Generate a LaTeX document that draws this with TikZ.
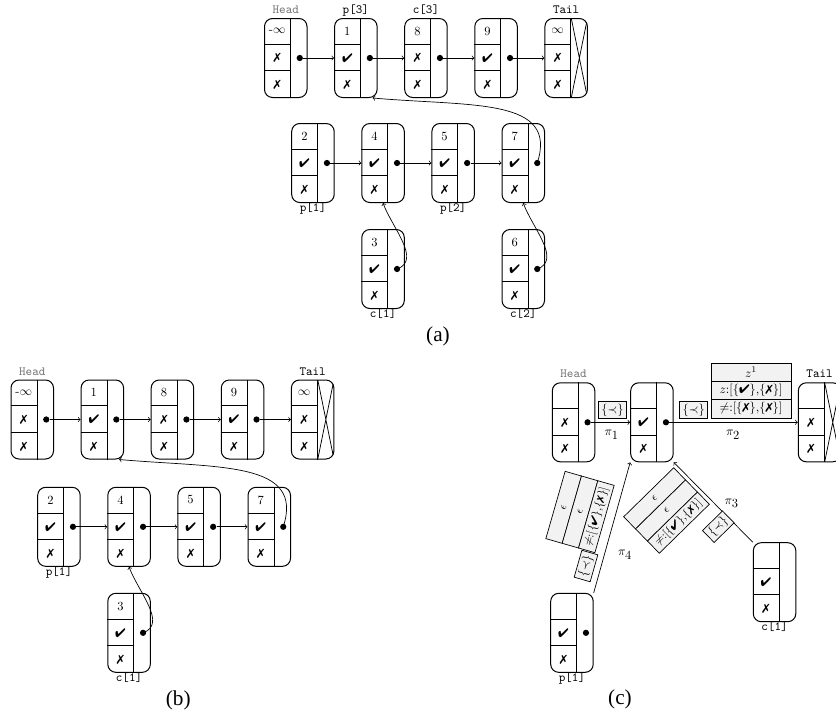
\documentclass[tikz,border=0pt]{standalone}
\usepackage{fontspec}
\usepackage{pifont}
\newfontfamily\capfont{Liberation Serif}
\newcommand\cmk{\ding{52}}
\newcommand\xmk{\ding{55}}
\newcommand\scmk{$\{$\cmk$\}$}
\newcommand\sxmk{$\{$\xmk$\}$}
\newcommand\LLnode[7]{%
  \node[lbox,#7] (#1) at ({#2+21.25},{-#3-39.5}) {};
  \draw[inln] ([xshift=21.12pt]#1.north west) -- ([xshift=21.12pt]#1.south west);
  \draw[inln] ([yshift=-21.07pt]#1.north west) -- ++(26.4,0);
  \draw[inln] ([yshift=-42.13pt]#1.north west) -- ++(26.4,0);
  \node[cell] (#1-t) at ([xshift=10.56pt,yshift=-10.53pt]#1.north west) {#4};
  \node[cell] (#1-m) at ([xshift=10.56pt]#1.west) {#5};
  \node[cell] (#1-b) at ([xshift=10.56pt,yshift=10.53pt]#1.south west) {#6};
}
\newcommand\LLdot[1]{\node[dotst] (#1-d) at ([xshift=-6.2pt]#1.east) {};}
\newcommand\TopLab[3]{\node[toplab,#3] (#1-l) at ([yshift=3.5pt]#1.north) {#2};}
\newcommand\BotLab[2]{\node[toplab] (#1-l) at ([yshift=-7pt]#1.south) {#2};}
\begin{document}
\begin{tikzpicture}[x=0.8pt,y=0.8pt,
  lbox/.style={draw, rounded corners=6.4pt, minimum width=34pt, minimum height=63.2pt, inner sep=0pt, line width=0.8pt},
  inln/.style={line width=0.6pt},
  tailx/.style={path picture={\draw[line width=0.6pt] ([xshift=21.12pt]path picture bounding box.north west) -- (path picture bounding box.south east) ([xshift=21.12pt]path picture bounding box.south west) -- (path picture bounding box.north east);}},
  cell/.style={inner sep=0pt, font=\fontsize{10}{12}\selectfont},
  dotst/.style={circle, fill, inner sep=0pt, minimum size=5pt},
  arr/.style={->, line width=0.55pt},
  toplab/.style={anchor=base, inner sep=0pt, font=\ttfamily},
  graylab/.style={text=black!55},
  capst/.style={inner sep=0pt, font=\capfont\fontsize{17}{20}\selectfont},
  lbl/.style={draw, fill=gray!10, inner sep=1pt, minimum width=22.4pt, minimum height=13.3pt, line width=0.55pt},
  trow/.style={draw, fill=gray!10, inner sep=0.5pt, line width=0.55pt},
  rrow/.style={trow, minimum width=56pt, minimum height=13.6pt, font=\fontsize{9}{10}\selectfont},
  pilab/.style={inner sep=0pt}
]
\useasboundingbox (0,0) rectangle (836,-717);

% ---------------- (a) ----------------
\LLnode{aH}{264.5}{18.5}{-$\infty$}{\xmk}{\xmk}{}\LLdot{aH}
\LLnode{aP}{334.6}{18.5}{1}{\cmk}{\xmk}{}\LLdot{aP}
\LLnode{aC}{404.7}{18.5}{8}{\xmk}{\xmk}{}\LLdot{aC}
\LLnode{aN}{474.8}{18.5}{9}{\cmk}{\xmk}{}\LLdot{aN}
\LLnode{aT}{544.9}{18.5}{$\infty$}{\xmk}{\xmk}{tailx}
\TopLab{aH}{Head}{graylab}
\TopLab{aP}{p[3]}{}
\TopLab{aC}{c[3]}{}
\TopLab{aT}{Tail}{}
\LLnode{a2}{291.7}{123.5}{2}{\cmk}{\xmk}{}\LLdot{a2}
\LLnode{a4}{361.8}{123.5}{4}{\cmk}{\xmk}{}\LLdot{a4}
\LLnode{a5}{431.9}{123.5}{5}{\cmk}{\xmk}{}\LLdot{a5}
\LLnode{a7}{502.0}{123.5}{7}{\cmk}{\xmk}{}\LLdot{a7}
\LLnode{a3}{361.8}{229.5}{3}{\cmk}{\xmk}{}\LLdot{a3}
\LLnode{a6}{502.0}{229.5}{6}{\cmk}{\xmk}{}\LLdot{a6}
\BotLab{a2}{p[1]}
\BotLab{a5}{p[2]}
\BotLab{a3}{c[1]}
\BotLab{a6}{c[2]}
\draw[arr] (aH-d) -- (aP.west);
\draw[arr] (aP-d) -- (aC.west);
\draw[arr] (aC-d) -- (aN.west);
\draw[arr] (aN-d) -- (aT.west);
\draw[arr] (a2-d) -- (a4.west);
\draw[arr] (a4-d) -- (a5.west);
\draw[arr] (a5-d) -- (a7.west);
\draw[arr] (a7-d.center) to[out=72,in=-5,in looseness=1.45] ([xshift=-4pt]aP.south east);
\draw[arr] (a3-d.center) to[out=20,in=-70] (a4.south);
\draw[arr] (a6-d.center) to[out=20,in=-70] (a7.south);
\node[capst] (capa) at (438,-336) {(a)};

% ---------------- (b) ----------------
\LLnode{bH}{11}{380}{-$\infty$}{\xmk}{\xmk}{}\LLdot{bH}
\LLnode{bP}{81.1}{380}{1}{\cmk}{\xmk}{}\LLdot{bP}
\LLnode{bC}{151.2}{380}{8}{\xmk}{\xmk}{}\LLdot{bC}
\LLnode{bN}{221.3}{380}{9}{\cmk}{\xmk}{}\LLdot{bN}
\LLnode{bT}{291.4}{380}{$\infty$}{\xmk}{\xmk}{tailx}
\TopLab{bH}{Head}{graylab}
\TopLab{bT}{Tail}{}
\LLnode{b2}{37.7}{487.3}{2}{\cmk}{\xmk}{}\LLdot{b2}
\LLnode{b4}{107.8}{487.3}{4}{\cmk}{\xmk}{}\LLdot{b4}
\LLnode{b5}{177.9}{487.3}{5}{\cmk}{\xmk}{}\LLdot{b5}
\LLnode{b7}{248.0}{487.3}{7}{\cmk}{\xmk}{}\LLdot{b7}
\LLnode{b3}{107.8}{593.3}{3}{\cmk}{\xmk}{}\LLdot{b3}
\BotLab{b2}{p[1]}
\BotLab{b3}{c[1]}
\draw[arr] (bH-d) -- (bP.west);
\draw[arr] (bP-d) -- (bC.west);
\draw[arr] (bC-d) -- (bN.west);
\draw[arr] (bN-d) -- (bT.west);
\draw[arr] (b2-d) -- (b4.west);
\draw[arr] (b4-d) -- (b5.west);
\draw[arr] (b5-d) -- (b7.west);
\draw[arr] (b7-d.center) to[out=72,in=-5,in looseness=1.45] ([xshift=-4pt]bP.south east);
\draw[arr] (b3-d.center) to[out=20,in=-70] (b4.south);
\node[capst] (capb) at (178.3,-700) {(b)};

% ---------------- (c) ----------------
\LLnode{cH}{552.3}{382.8}{}{\xmk}{\xmk}{}\LLdot{cH}
\LLnode{cM}{630.7}{382.8}{}{\cmk}{\xmk}{}\LLdot{cM}
\LLnode{cT}{798.3}{382.8}{}{\xmk}{\xmk}{tailx}
\LLnode{cP}{550.7}{593.3}{}{\cmk}{\xmk}{}\LLdot{cP}
\LLnode{cC}{753.3}{542.7}{}{\cmk}{\xmk}{}
\TopLab{cH}{Head}{graylab}
\TopLab{cT}{Tail}{}
\BotLab{cP}{p[1]}
\BotLab{cC}{c[1]}
\draw[arr] (cH-d) -- (cM.west);
\draw[arr] (cM-d) -- (cT.west);
\draw[arr] (cP.north east) -- (cM.south west);
\draw[arr] (cC.north west) -- (cM.south east);
% pi1
\node[lbl] (l1) at (612.5,-410) {$\{\prec\}$};
\node[pilab] (p1) at (611.7,-435) {$\pi_{\textstyle 1}$};
% pi2
\node[lbl] (l2) at (693.7,-410) {$\{\prec\}$};
\node[trow, minimum width=64pt, minimum height=14.67pt] (t2a) at (751,-372.2) {$z^1$};
\node[trow, minimum width=64pt, minimum height=14.67pt] (t2b) at (751,-390.5) {$z$:[\scmk,\sxmk]};
\node[trow, minimum width=64pt, minimum height=14.67pt] (t2c) at (751,-408.8) {$\neq$:[\sxmk,\sxmk]};
\node[pilab] (p2) at (733,-435) {$\pi_{\textstyle 2}$};
% pi3
\begin{scope}[shift={(666.5,-510.5)}, rotate=44.4, every node/.append style={transform shape}]
  \node[rrow] (t3a) at (0,17) {$\epsilon$};
  \node[rrow] (t3b) at (0,0) {$\epsilon$};
  \node[rrow] (t3c) at (0,-17) {$\neq$:[\scmk,\sxmk]};
\end{scope}
\node[lbl, rotate=44.4] (l3) at (718.3,-526.7) {$\{\prec\}$};
\node[pilab] (p3) at (731.7,-503.3) {$\pi_{\textstyle 3}$};
% pi4
\begin{scope}[shift={(580,-512)}, rotate=74, every node/.append style={transform shape}]
  \node[rrow] (t4a) at (0,17) {$\epsilon$};
  \node[rrow] (t4b) at (0,0) {$\epsilon$};
  \node[rrow] (t4c) at (0,-17) {$\neq$:[\scmk,\sxmk]};
\end{scope}
\node[lbl, rotate=74] (l4) at (586,-566) {$\{\prec\}$};
\node[pilab] (p4) at (625,-555) {$\pi_{\textstyle 4}$};
\node[capst] (capc) at (620,-699) {(c)};
\end{tikzpicture}
\end{document}
